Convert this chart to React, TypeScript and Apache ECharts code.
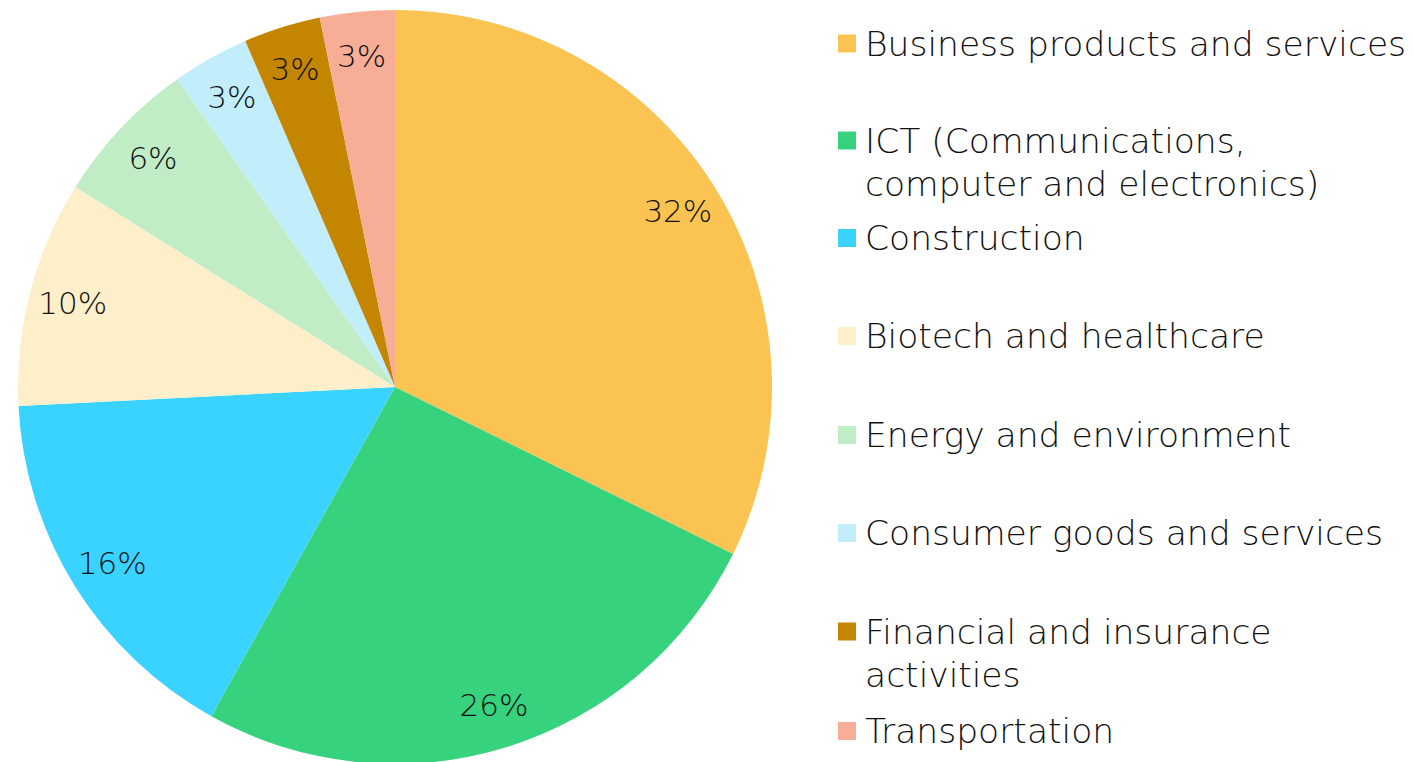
import React, { useEffect, useRef } from "react";
import * as echarts from "echarts";

const categories = [
  "Business products and services",
  "ICT (Communications, computer and electronics)",
  "Construction",
  "Biotech and healthcare",
  "Energy and environment",
  "Consumer goods and services",
  "Financial and insurance activities",
  "Transportation",
];
const legendLabels = [
  "Business products and services",
  "ICT (Communications,\ncomputer and electronics)",
  "Construction",
  "Biotech and healthcare",
  "Energy and environment",
  "Consumer goods and services",
  "Financial and insurance\nactivities",
  "Transportation",
];
const values = [32.3, 25.8, 16.1, 9.7, 6.3, 3.3, 3.3, 3.2];
const colors = ["#FBC452", "#36D27E", "#3AD3FF", "#FDEFC9", "#C0EDC6", "#C2EEFB", "#C48500", "#F8AD96"];

const FONT = "DejaVu Sans";
const LINE = 43;
const legendCenters = [45.5, 142.5, 240, 338, 437, 535, 633.5, 733];

export default function App() {
  const ref = useRef<HTMLDivElement>(null);
  useEffect(() => {
    if (!ref.current) return;
    const chart = echarts.init(ref.current, null, { renderer: "svg" });
    const data = categories.map((name, i) => ({ name, value: values[i], itemStyle: { color: colors[i] } }));
    const legends = categories.map((name, i) => {
      const twoLine = legendLabels[i].includes("\n");
      const text = twoLine ? " \n" + legendLabels[i] : legendLabels[i];
      return {
        orient: "vertical",
        left: 838,
        top: legendCenters[i] - 23.5 - (twoLine ? LINE : 0),
        padding: 0,
        itemWidth: 18,
        itemHeight: 18,
        itemGap: 0,
        icon: "rect",
        selectedMode: false,
        data: [{ name, itemStyle: { color: colors[i] } }],
        formatter: () => text,
        textStyle: {
          fontFamily: FONT,
          fontWeight: 200,
          fontSize: 34.5,
          color: "#111",
          lineHeight: LINE,
          padding: [0, 0, 0, 4],
        },
      };
    });
    chart.setOption({
      animation: false,
      backgroundColor: "#fff",
      legend: legends,
      series: [
        {
          type: "pie",
          center: [395, 387],
          radius: 377,
          startAngle: 90,
          clockwise: true,
          silent: true,
          label: { show: false },
          labelLine: { show: false },
          itemStyle: { borderWidth: 0 },
          data,
        },
        {
          type: "pie",
          center: [395, 387],
          radius: [283, 377],
          startAngle: 90,
          clockwise: true,
          silent: true,
          itemStyle: { color: "transparent", borderWidth: 0 },
          label: {
            show: true,
            position: "inside",
            formatter: (p: any) => Math.round(p.percent) + "%",
            fontFamily: FONT,
            fontWeight: 200,
            fontSize: 31,
            color: "#111",
          },
          labelLine: { show: false },
          data: categories.map((name, i) => ({ name, value: values[i] })),
        },
      ],
    });
    return () => chart.dispose();
  }, []);
  return <div ref={ref} style={{ width: 1414, height: 762, position: "absolute", left: 0, top: 0 }} />;
}
